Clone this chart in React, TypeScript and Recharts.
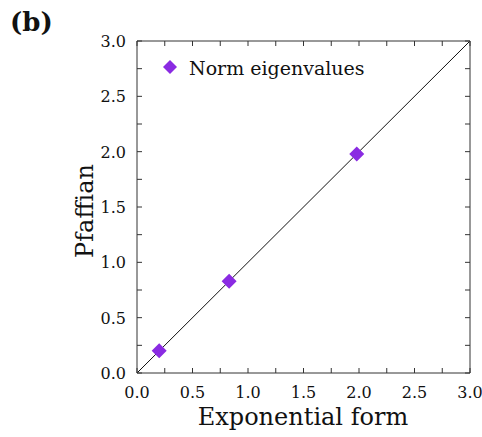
import React from "react";
import {
  ScatterChart,
  Scatter,
  XAxis,
  YAxis,
  ReferenceLine,
  Legend,
} from "recharts";

const exponentialForm = [0.2, 0.83, 1.98];
const pfaffian = [0.2, 0.83, 1.98];
const tickValues = [0, 0.25, 0.5, 0.75, 1, 1.25, 1.5, 1.75, 2, 2.25, 2.5, 2.75, 3];
const majorTicks = [0, 0.5, 1, 1.5, 2, 2.5, 3];

const data = exponentialForm.map((x, i) => ({ x, y: pfaffian[i] }));

const FONT = "DejaVu Serif";
const AXIS = "#333";
const PURPLE = "#8a2be2";
const TICK_LEN = 5;

const fmt = (v: number) => v.toFixed(1);
const isMajor = (v: number) => majorTicks.some((m) => Math.abs(m - v) < 1e-6);

const BottomTick = (props: any) => {
  const { x, y, payload } = props;
  return (
    <g>
      <line x1={x} y1={y} x2={x} y2={y - TICK_LEN} stroke={AXIS} />
      {isMajor(payload.value) && (
        <text x={x} y={y + 25} textAnchor="middle" style={{ fontFamily: FONT }} fontSize={16} fill="#111">
          {fmt(payload.value)}
        </text>
      )}
    </g>
  );
};

const LeftTick = (props: any) => {
  const { x, y, payload } = props;
  return (
    <g>
      <line x1={x} y1={y} x2={x + TICK_LEN} y2={y} stroke={AXIS} />
      {isMajor(payload.value) && (
        <text x={x - 11} y={y + 6} textAnchor="end" style={{ fontFamily: FONT }} fontSize={16} fill="#111">
          {fmt(payload.value)}
        </text>
      )}
    </g>
  );
};

const TopTick = (props: any) => {
  const { x, y } = props;
  return <line x1={x} y1={y} x2={x} y2={y + TICK_LEN} stroke={AXIS} />;
};

const RightTick = (props: any) => {
  const { x, y } = props;
  return <line x1={x} y1={y} x2={x - TICK_LEN} y2={y} stroke={AXIS} />;
};

const Diamond = (props: any) => {
  const { cx, cy } = props;
  const r = 7.5;
  return (
    <path
      d={`M${cx},${cy - r}L${cx + r},${cy}L${cx},${cy + r}L${cx - r},${cy}Z`}
      fill={PURPLE}
    />
  );
};

const Nothing = () => <g />;

const LegendContent = () => (
  <svg width={260} height={30}>
    <path d="M10,8L17,15L10,22L3,15Z" fill={PURPLE} />
    <text x={29} y={23} style={{ fontFamily: FONT }} fontSize={19} fill="#111">
      Norm eigenvalues
    </text>
  </svg>
);

export default function App() {
  return (
    <div style={{ position: "absolute", left: 0, top: 0, width: 482, height: 437, background: "#fff" }}>
      <div
        style={{
          position: "absolute",
          left: 10,
          top: 9,
          fontFamily: FONT,
          fontWeight: "bold",
          fontSize: 26,
          lineHeight: 1,
          color: "#111",
        }}
      >
        (b)
      </div>
      <ScatterChart width={482} height={437} margin={{ top: 40, right: 11, bottom: 0, left: 0 }}>
        <XAxis
          xAxisId="b"
          dataKey="x"
          type="number"
          domain={[0, 3]}
          ticks={tickValues}
          interval={0}
          height={64}
          tickSize={0}
          tickMargin={0}
          tickLine={false}
          axisLine={{ stroke: AXIS }}
          tick={<BottomTick />}
          allowDataOverflow
          label={{
            content: () => (
              <text x={303} y={425} textAnchor="middle" style={{ fontFamily: FONT }} fontSize={24} fill="#111">
                Exponential form
              </text>
            ),
          }}
        />
        <XAxis
          xAxisId="t"
          dataKey="x"
          orientation="top"
          type="number"
          domain={[0, 3]}
          ticks={tickValues}
          interval={0}
          height={1}
          tickSize={0}
          tickMargin={0}
          tickLine={false}
          axisLine={{ stroke: AXIS }}
          tick={<TopTick />}
          allowDataOverflow
        />
        <YAxis
          yAxisId="l"
          dataKey="y"
          type="number"
          domain={[0, 3]}
          ticks={tickValues}
          interval={0}
          width={137}
          tickSize={0}
          tickMargin={0}
          tickLine={false}
          axisLine={{ stroke: AXIS }}
          tick={<LeftTick />}
          allowDataOverflow
          label={{
            content: () => (
              <text
                x={93}
                y={211}
                transform="rotate(-90 93 211)"
                textAnchor="middle"
                style={{ fontFamily: FONT }}
                fontSize={24}
                fill="#111"
              >
                Pfaffian
              </text>
            ),
          }}
        />
        <YAxis
          yAxisId="r"
          dataKey="y"
          orientation="right"
          type="number"
          domain={[0, 3]}
          ticks={tickValues}
          interval={0}
          width={1}
          tickSize={0}
          tickMargin={0}
          tickLine={false}
          axisLine={{ stroke: AXIS }}
          tick={<RightTick />}
          allowDataOverflow
        />
        <ReferenceLine
          xAxisId="b"
          yAxisId="l"
          segment={[
            { x: 0, y: 0 },
            { x: 3, y: 3 },
          ]}
          stroke="#111"
          strokeWidth={1}
        />
        <Legend
          layout="vertical"
          align="center"
          verticalAlign="middle"
          wrapperStyle={{ left: 160, top: 52, width: 260, height: 30 }}
          content={<LegendContent />}
        />
        <Scatter
          name="frame"
          data={data}
          xAxisId="t"
          yAxisId="r"
          shape={<Nothing />}
          legendType="none"
          isAnimationActive={false}
        />
        <Scatter
          name="Norm eigenvalues"
          data={data}
          xAxisId="b"
          yAxisId="l"
          fill={PURPLE}
          shape={<Diamond />}
          isAnimationActive={false}
        />
      </ScatterChart>
    </div>
  );
}
